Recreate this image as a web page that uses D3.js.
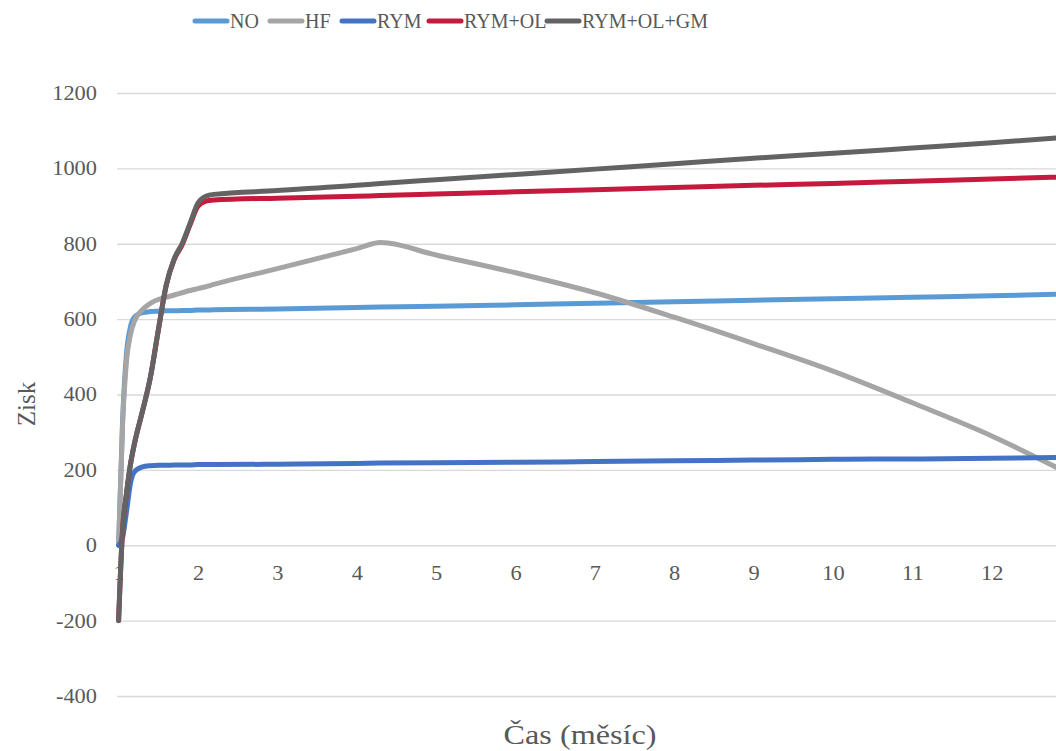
<!DOCTYPE html>
<html>
<head>
<meta charset="utf-8">
<script src="https://cdn.jsdelivr.net/npm/d3@7/dist/d3.min.js"></script>
<style>
  html, body { margin: 0; padding: 0; background: #fff; }
  svg { display: block; }
</style>
</head>
<body>
<svg id="chart" width="1056" height="751"></svg>
<script>
// ---- data ----
const months = [1, 1.05, 1.1, 1.15, 1.2, 1.3, 1.4, 1.5, 1.6, 1.7, 1.8, 1.9, 2.0, 2.1, 2.2, 3, 4, 4.3, 5, 6, 7, 8, 9, 10, 11, 12, 12.85];
const seriesNames = ["NO", "HF", "RYM", "RYM+OL", "RYM+OL+GM"];
const noValues   = [0, 330, 510, 580, 605, 617, 620, 621, 622, 622, 623, 623, 624, 624, 625, 627, 631, 632, 634, 638, 642, 646, 650, 654, 658, 662, 666];
const hfValues   = [0, 320, 490, 560, 595, 625, 642, 652, 658, 664, 670, 676, 681, 686, 692, 734, 787, 803, 770, 723, 670, 605, 535, 462, 378, 290, 203];
const rymValues  = [0, 20, 90, 165, 195, 208, 211, 212, 212, 213, 213, 213, 214, 214, 214, 215, 217, 218, 219, 220, 222, 224, 226, 228, 229, 231, 233];
const rymOlValues   = [-200, 40, 138, 215, 270, 355, 445, 570, 690, 758, 797, 850, 900, 913, 916, 921, 926, 928, 932, 938, 943, 949, 955, 960, 966, 972, 977];
const rymOlGmValues = [-200, 40, 138, 215, 270, 355, 445, 570, 690, 760, 800, 854, 908, 926, 931, 941, 955, 960, 970, 984, 998, 1012, 1027, 1040, 1054, 1068, 1081];
const xTicks = [1, 2, 3, 4, 5, 6, 7, 8, 9, 10, 11, 12];
const yTicks = [-400, -200, 0, 200, 400, 600, 800, 1000, 1200];
const colors = ["#5B9BD5", "#A5A5A5", "#4472C4", "#C5193D", "#636363"];
const axisTitleX = "Čas (měsíc)";
const axisTitleY = "Zisk";

const FONT = "Liberation Serif, Tinos, Times New Roman, DejaVu Serif, serif";
const TXT = "#595959";

const allValues = [noValues, hfValues, rymValues, rymOlValues, rymOlGmValues];
const series = seriesNames.map((name, i) => ({
  name, color: colors[i],
  points: months.map((m, j) => ({ x: m, y: allValues[i][j] }))
}));

// ---- layout ----
const svg = d3.select("#chart").attr("font-family", FONT);
const W = 1056, H = 751;
const plotLeft = 117, plotRight = 1056;
const x = d3.scaleLinear().domain([1, 12]).range([118.6, 991.7]);
const y = d3.scaleLinear().domain([-400, 1200]).range([696, 93]);

svg.append("defs").append("clipPath").attr("id", "clip")
  .append("rect").attr("x", 0).attr("y", 0).attr("width", plotRight).attr("height", H);

// gridlines
const gridAxis = d3.axisLeft(y).tickValues(yTicks).tickSize(-(plotRight - plotLeft)).tickFormat("");
const grid = svg.append("g").attr("transform", `translate(${plotLeft},0)`).call(gridAxis);
grid.select(".domain").remove();
grid.selectAll("line").attr("stroke", "#D9D9D9").attr("stroke-width", 1.3);

// y tick labels
const yAxis = d3.axisLeft(y).tickValues(yTicks).tickSize(0).tickPadding(0).tickFormat(d => String(d));
const yg = svg.append("g").attr("transform", "translate(97,0)").call(yAxis)
  .attr("font-family", FONT).attr("font-size", 20);
yg.select(".domain").remove();
yg.selectAll("text").attr("fill", TXT).attr("x", 0).attr("transform", "scale(1.12,1)");

// x tick labels (at y = 0)
const xAxis = d3.axisBottom(x).tickValues(xTicks).tickSize(0).tickPadding(0).tickFormat(d => String(d));
const xg = svg.append("g").attr("transform", `translate(0,${y(0) + 21})`).call(xAxis)
  .attr("font-family", FONT).attr("font-size", 20);
xg.select(".domain").remove();
xg.selectAll("text").attr("fill", TXT).attr("transform", "scale(1.12,1)");

// lines
const line = d3.line().x(d => x(d.x)).y(d => y(d.y)).curve(d3.curveMonotoneX);
svg.append("g").attr("clip-path", "url(#clip)")
  .selectAll("path").data(series).join("path")
  .attr("d", d => line(d.points))
  .attr("fill", "none")
  .attr("stroke", d => d.color)
  .attr("stroke-width", 5)
  .attr("stroke-linecap", "round")
  .attr("stroke-linejoin", "round");

// axis titles
svg.append("text").attr("transform", "translate(580,744) scale(1.15,1)").attr("text-anchor", "middle")
  .attr("font-size", 28).attr("fill", TXT).text(axisTitleX);
svg.append("text").attr("transform", "translate(35,404) rotate(-90)").attr("text-anchor", "middle")
  .attr("font-size", 25).attr("fill", TXT).text(axisTitleY);

// legend
const legendX = [193, 268, 340, 427, 545];
const lg = svg.append("g");
series.forEach((s, i) => {
  const g = lg.append("g").attr("transform", `translate(${legendX[i]},21)`);
  g.append("line").attr("x1", 2).attr("x2", 34).attr("y1", 0).attr("y2", 0)
    .attr("stroke", s.color).attr("stroke-width", 5).attr("stroke-linecap", "round");
  g.append("text").attr("x", 37).attr("y", 7)
    .attr("font-size", 20).attr("fill", TXT).text(s.name);
});
</script>
</body>
</html>
